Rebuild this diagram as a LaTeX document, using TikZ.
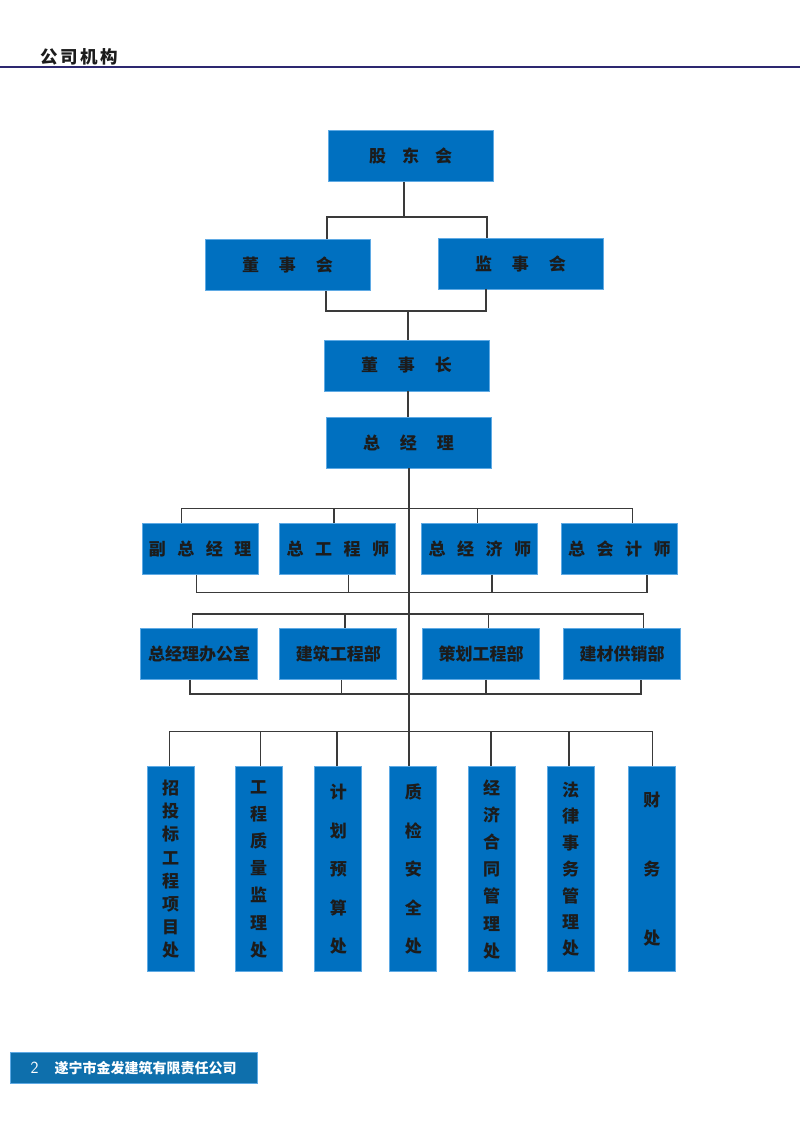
\documentclass[tikz,border=0pt]{standalone}
\usepackage{fontspec}
\newfontfamily\cjk{Noto Sans CJK SC}
\definecolor{boxblue}{RGB}{0,112,192}
\definecolor{boxedge}{RGB}{95,170,228}
\definecolor{linegray}{RGB}{58,58,58}
\definecolor{rulenavy}{RGB}{45,40,112}
\definecolor{footblue}{RGB}{14,111,172}
\definecolor{ink}{RGB}{28,28,28}
\tikzset{
  orgbox/.style={fill=boxblue, draw=boxedge, line width=0.8pt, inner sep=0pt, text=ink,
    font=\cjk\bfseries\fontsize{17}{20}\selectfont},
  hbox/.style={orgbox, minimum width=165pt, minimum height=51pt},
  mbox/.style={orgbox, minimum width=116pt, minimum height=51pt},
  colbox/.style={orgbox, minimum width=47pt, minimum height=205pt, align=center,
    font=\cjk\bfseries\fontsize{17}{#1}\selectfont},
  link/.style={draw=linegray, line width=1.2pt},
}
\newcommand{\gapA}{\hspace{20pt}}
\newcommand{\gapB}{\hspace{11.5pt}}
\begin{document}
\begin{tikzpicture}[x=1pt,y=-1pt]

	\useasboundingbox (0,0) rectangle (800,1131);

	\node [anchor=west, text=ink, font=\cjk\bfseries\fontsize{17.5}{17.5}\selectfont] (title) at (37,56.5) {公\hspace{2.5pt}司\hspace{2.5pt}机\hspace{2.5pt}构};
	\draw [rulenavy, line width=2pt] (0,66.7) -- (800,66.7);

	\node [hbox] (gdh) at (410.5,156) {股\hspace{16pt}东\hspace{16pt}会};
	\node [hbox] (dsh) at (287.5,265) {董\gapA 事\gapA 会};
	\node [hbox] (jsh) at (520.5,263.5) {监\gapA 事\gapA 会};
	\node [hbox] (dsz) at (406.5,365.5) {董\gapA 事\gapA 长};
	\node [hbox] (zjl) at (408.5,442.5) {总\gapA 经\gapA 理};

	\node [mbox] (fzjl) at (200.2,548.8) {副\gapB 总\gapB 经\gapB 理};
	\node [mbox] (zgcs) at (337.8,548.8) {总\gapB 工\gapB 程\gapB 师};
	\node [mbox] (zjjs) at (479.8,548.8) {总\gapB 经\gapB 济\gapB 师};
	\node [mbox] (zkjs) at (619.3,548.8) {总\gapB 会\gapB 计\gapB 师};

	\node [mbox, minimum width=117pt] (zjlb) at (199.2,653.7) {总经理办公室};
	\node [mbox, minimum width=117pt] (jzgc) at (338.3,653.7) {建筑工程部};
	\node [mbox, minimum width=117pt] (chgc) at (481,653.7) {策划工程部};
	\node [mbox, minimum width=117pt] (jcgx) at (622.2,653.7) {建材供销部};

	\node [colbox=23.1pt] (ztb) at (170.7,869.2) {招\\投\\标\\工\\程\\项\\目\\处};
	\node [colbox=27.2pt] (gczl) at (258.7,869.2) {工\\程\\质\\量\\监\\理\\处};
	\node [colbox=38.5pt] (jhys) at (338.3,869.2) {计\\划\\预\\算\\处};
	\node [colbox=38.5pt] (zjaq) at (413.3,869.2) {质\\检\\安\\全\\处};
	\node [colbox=27.2pt] (jjht) at (491.7,869.2) {经\\济\\合\\同\\管\\理\\处};
	\node [colbox=26.4pt] (flsw) at (570.5,869.2) {法\\律\\事\\务\\管\\理\\处};
	\node [colbox=69.2pt] (cwc) at (651.8,869.2) {财\\务\\处};

	\draw [link] (404,0 |- gdh.south) -- (404,217);
	\draw [link] (327,0 |- dsh.north) |- (487,217) -- (487,0 |- jsh.north);
	\draw [link] (326,0 |- dsh.south) |- (486,311) -- (486,0 |- jsh.south);
	\draw [link] (408,311) -- (408,0 |- dsz.north);
	\draw [link] (408,0 |- dsz.south) -- (408,0 |- zjl.north);
	\draw [link] (409,0 |- zjl.south) -- (409,0 |- zjaq.north);

	\draw [link] (181.7,0 |- fzjl.north) |- (632.3,508.3) -- (632.3,0 |- zkjs.north);
	\draw [link] (334,0 |- zgcs.north) -- (334,508.3);
	\draw [link] (477.7,0 |- zjjs.north) -- (477.7,508.3);

	\draw [link] (196.7,0 |- fzjl.south) |- (647,592.7) -- (647,0 |- zkjs.south);
	\draw [link] (348.3,0 |- zgcs.south) -- (348.3,592.7);
	\draw [link] (492,0 |- zjjs.south) -- (492,592.7);

	\draw [link] (192.7,0 |- zjlb.north) |- (643.7,614) -- (643.7,0 |- jcgx.north);
	\draw [link] (345,0 |- jzgc.north) -- (345,614);
	\draw [link] (488.7,0 |- chgc.north) -- (488.7,614);

	\draw [link] (190,0 |- zjlb.south) |- (641,694) -- (641,0 |- jcgx.south);
	\draw [link] (341.7,0 |- jzgc.south) -- (341.7,694);
	\draw [link] (486,0 |- chgc.south) -- (486,694);

	\draw [link] (169.3,0 |- ztb.north) |- (652.3,731.7) -- (652.3,0 |- cwc.north);
	\foreach \x/\n in {260.3/gczl,337/jhys,491/jjht,569/flsw}
		\draw [link] (\x,0 |- \n.north) -- (\x,731.7);

	\node [anchor=north west, fill=footblue, draw=boxedge, line width=0.6pt, minimum width=246.7pt, minimum height=31.6pt,
		text=white, font=\cjk\bfseries\fontsize{14}{14}\selectfont] (foot) at (10,1051.7)
		{{\sffamily\mdseries\fontsize{17}{17}\selectfont 2}\hspace{16pt}遂宁市金发建筑有限责任公司};

\end{tikzpicture}
\end{document}
